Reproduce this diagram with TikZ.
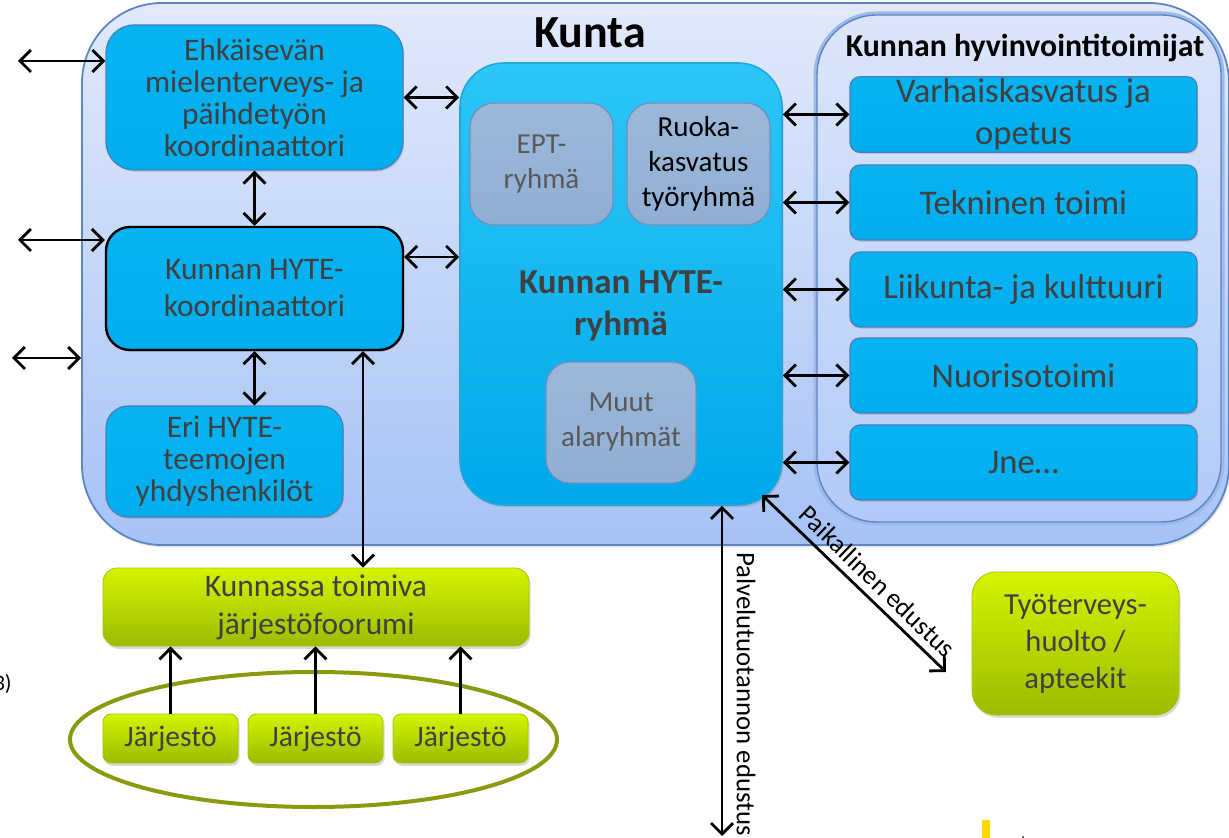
\documentclass[tikz,border=0pt]{standalone}
\usepackage{fontspec}
\setmainfont{Carlito}
\usetikzlibrary{arrows.meta,shadows,shapes.geometric,calc}
\definecolor{kuntaTop}{HTML}{E2EAFB}
\definecolor{kuntaBot}{HTML}{A6C2F6}
\definecolor{kuntaBd}{HTML}{5B86C5}
\definecolor{hyvTop}{HTML}{DCE6FA}
\definecolor{hyvBot}{HTML}{B2CAF8}
\definecolor{glow}{HTML}{9DB9EA}
\definecolor{blueA}{HTML}{06B4F2}
\definecolor{blueB}{HTML}{00ADEE}
\definecolor{blueBd}{HTML}{4A7EBB}
\definecolor{cenTop}{HTML}{2CC6F7}
\definecolor{cenBot}{HTML}{00A8EA}
\definecolor{cenBd}{HTML}{22A6DC}
\definecolor{grayTop}{HTML}{9BB8DA}
\definecolor{grayBot}{HTML}{91AFD4}
\definecolor{grayBd}{HTML}{6F8FC0}
\definecolor{greenTop}{HTML}{D4F400}
\definecolor{greenBot}{HTML}{9CBB00}
\definecolor{greenBd}{HTML}{A8C400}
\definecolor{olive}{HTML}{8A9A0E}
\definecolor{txt}{HTML}{404040}
\definecolor{txtlight}{HTML}{595959}
\definecolor{barYellow}{HTML}{FFD800}
\definecolor{dotGray}{HTML}{707070}
\tikzset{
  bluebox/.style={draw=blueBd, line width=0.6pt, top color=blueA, bottom color=blueB,
    text=txt, align=center, inner sep=1pt,
    drop shadow={shadow xshift=0.6pt, shadow yshift=-0.9pt, opacity=0.25}},
  leftfont/.style={font=\fontsize{15.7}{16}\selectfont},
  rightbox/.style={bluebox, rounded corners=5pt, minimum width=173.5pt, minimum height=37.5pt,
    font=\fontsize{17.3}{21}\selectfont},
  graybox/.style={draw=grayBd, line width=0.6pt, top color=grayTop, bottom color=grayBot,
    align=center, inner sep=1pt, rounded corners=12pt, text=txtlight,
    font=\fontsize{14.5}{17.5}\selectfont},
  greenbox/.style={draw=greenBd, line width=0.4pt, top color=greenTop, bottom color=greenBot,
    text=txt, align=center, inner sep=1pt,
    drop shadow={shadow xshift=0.8pt, shadow yshift=-1.4pt, opacity=0.3}},
  dbl/.style={line width=1.4pt, >={Straight Barb[length=5.5pt,width=11pt]}, <->},
  uparr/.style={line width=1.4pt, >={Straight Barb[length=5.5pt,width=11pt]}, ->},
}
\begin{document}
\begin{tikzpicture}[x=0.5pt, y=-0.5pt]
\useasboundingbox (0,0) rectangle (1229,838);

% outer Kunta area
\node[draw=kuntaBd, line width=0.9pt, top color=kuntaTop, bottom color=kuntaBot,
      rounded corners=40pt, minimum width=573.5pt, minimum height=271pt, inner sep=0pt,
      drop shadow={shadow xshift=0.8pt, shadow yshift=-1.2pt, opacity=0.2}]
      (kunta) at (655.5,274) {};
\node[font=\fontsize{23}{27}\selectfont\bfseries, text=black] (kuntat) at (590,33) {Kunta};

% hyvinvointitoimijat area
\node[draw=kuntaBd, line width=0.7pt, top color=hyvTop, bottom color=hyvBot,
      rounded corners=30pt, minimum width=202pt, minimum height=253.5pt, inner sep=0pt,
      preaction={draw=glow, line width=3.5pt}]
      (hyv) at (1019,268.5) {};
\node[font=\fontsize{15.9}{18}\selectfont\bfseries, text=black] (hyvt) at (1025,48)
      {Kunnan hyvinvointitoimijat};

% left column
\node[bluebox, leftfont, rounded corners=14pt, minimum width=148.5pt, minimum height=72.5pt]
      (ehk) at (254.5,97.5) {Ehkäisevän\\mielenterveys- ja\\päihdetyön\\koordinaattori};
\node[bluebox, font=\fontsize{15.7}{18.5}\selectfont, draw=black, line width=1.2pt, rounded corners=12pt,
      minimum width=148.5pt, minimum height=61.5pt]
      (khk) at (254.5,288.5) {Kunnan HYTE-\\koordinaattori};
\node[bluebox, leftfont, rounded corners=11pt, minimum width=118.5pt, minimum height=55.5pt]
      (eri) at (224.5,461.5) {Eri HYTE-\\teemojen\\yhdyshenkilöt};

% central group
\node[draw=cenBd, line width=0.8pt, top color=cenTop, bottom color=cenBot,
      rounded corners=22pt, minimum width=161pt, minimum height=221pt, inner sep=0pt,
      drop shadow={shadow xshift=0.8pt, shadow yshift=-1.2pt, opacity=0.25}]
      (ryhma) at (621,284) {};
\node[graybox] [minimum width=71.5pt, minimum height=61pt] (ept) at (541.5,164) {EPT-\\ryhmä};
\node[graybox, text=black] [minimum width=71.5pt, minimum height=61pt] (ruoka) at (698.5,164)
      {Ruoka-\\kasvatus\\työryhmä};
\node[graybox] [minimum width=75pt, minimum height=60.5pt] (muut) at (621,422.5)
      {Muut\\alaryhmät};
\node[font=\fontsize{17.5}{21}\selectfont\bfseries, text=txt, align=center] (ryhmat) at (621,306)
      {Kunnan HYTE-\\ryhmä};

% right column
\node[rightbox] (varh) at (1023.5,114.5) {Varhaiskasvatus ja\\opetus};
\node[rightbox] (tekn) at (1023.5,202.5) {Tekninen toimi};
\node[rightbox] (liik) at (1023.5,289.5) {Liikunta- ja kulttuuri};
\node[rightbox] (nuor) at (1023.5,375.5) {Nuorisotoimi};
\node[rightbox] (jne)  at (1023.5,462.5) {Jne…};

% bottom: organisations
\node[ellipse, draw=olive, line width=2pt, minimum width=243.5pt, minimum height=67.5pt,
      inner sep=0pt] (grp) at (313.5,739.5) {};
\node[greenbox, rounded corners=7pt, minimum width=213pt, minimum height=39pt,
      font=\fontsize{15.7}{19}\selectfont] (forum) at (316,607)
      {Kunnassa toimiva\\järjestöfoorumi};
\foreach \n/\xx in {j1/170.5, j2/315.5, j3/460.5}{
  \node[greenbox, rounded corners=4pt, minimum width=67.5pt, minimum height=24.5pt,
        font=\fontsize{14.8}{17}\selectfont] (\n) at (\xx,738.5) {Järjestö};
}
\node[greenbox, rounded corners=12pt, minimum width=103.5pt, minimum height=71.5pt,
      font=\fontsize{15.3}{18.5}\selectfont] (tyo) at (1075.5,643.5)
      {Työterveys-\\huolto /\\apteekit};

% connectors
\coordinate (eL) at (18,61);
\coordinate (kL) at (18,240);
\coordinate (oL) at (12,358);
\coordinate (k257) at (0,257);
\coordinate (x363) at (363,0);
\draw[dbl] (eL) -- (ehk.west |- eL);
\draw[dbl] (kL) -- (khk.west |- kL);
\draw[dbl] (oL) -- (kunta.west |- oL);
\draw[dbl] (ehk.south) -- (khk.north);
\draw[dbl] (khk.south) -- (khk.south |- eri.north);
\draw[dbl] (ehk.east) -- (ryhma.west |- ehk.east);
\draw[dbl] (khk.east |- k257) -- (ryhma.west |- k257);
\foreach \n in {varh,tekn,liik,nuor,jne}{
  \draw[dbl] (ryhma.east |- \n.west) -- (\n.west);
}
\draw[dbl] (khk.south -| x363) -- (forum.north -| x363);
\foreach \n in {j1,j2,j3}{
  \draw[uparr] (\n.north) -- (\n.north |- forum.south);
}
\coordinate (pBot) at (722,836);
\draw[dbl] (ryhma.south -| pBot) -- (pBot);
\node[rotate=-90, font=\fontsize{13.4}{15}\selectfont, text=black, inner sep=0pt]
      (palv) at (746,694) {Palvelutuotannon edustus};
\coordinate (pa) at (762,495);
\coordinate (pb) at (946,672);
\draw[dbl] (pa) -- (pb) node[pos=0.56, sloped, above=3.5pt, font=\fontsize{13.2}{15}\selectfont,
      text=black, inner sep=0pt] (paik) {Paikallinen edustus};

% stray marks
\node[anchor=east, font=\fontsize{11}{13}\selectfont, text=black, inner sep=0pt] (n3) at (12,684) {3)};
\fill[fill=barYellow] (982,820) rectangle (990,838);
\fill[fill=dotGray] (1022,835.5) rectangle (1024,837.5);
\end{tikzpicture}
\end{document}
